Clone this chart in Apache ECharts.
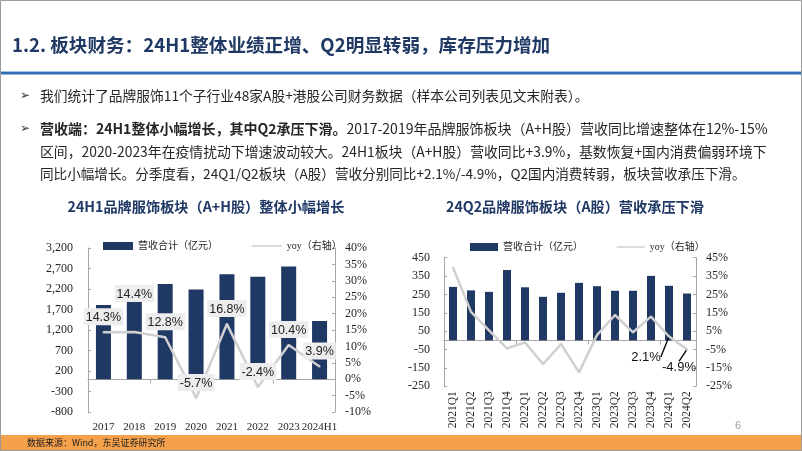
<!DOCTYPE html>
<html><head><meta charset="utf-8">
<script src="https://cdn.jsdelivr.net/npm/echarts@6/dist/echarts.min.js"></script>
<style>html,body{margin:0;padding:0;background:#fff;}#c{width:802px;height:451px;}</style>
</head><body><div id="c"></div>
<script>
// ---- data ----
const years = ['2017','2018','2019','2020','2021','2022','2023','2024H1'];
const revenueAH = [1810, 1890, 2320, 2190, 2560, 2500, 2750, 1420];
const yoyAH = [14.3, 14.4, 12.8, -5.7, 16.8, -2.4, 10.4, 3.9];
const quarters = ['2021Q1','2021Q2','2021Q3','2021Q4','2022Q1','2022Q2','2022Q3','2022Q4','2023Q1','2023Q2','2023Q3','2023Q4','2024Q1','2024Q2'];
const revenueA = [291, 272, 264, 383, 289, 237, 259, 313, 295, 270, 270, 351, 297, 255];
const yoyA = [39.7, 15.5, 5.5, -4.4, -1.1, -12.9, -2.0, -17.4, 2.9, 13.8, 4.4, 12.9, 2.1, -4.9];
const legendNames = ['营收合计（亿元）', 'yoy（右轴）'];

const CJK = 'Noto Sans CJK SC';
const SERIF = 'Liberation Serif, Noto Sans CJK SC';
const NAVY = '#1F3864';
const BAR = '#203864';
const LINE = '#D0D0D0';
const AXIS = '#A6A6A6';

const chart = echarts.init(document.getElementById('c'), null, {renderer: 'canvas'});

function txt(x, y, text, size, opts) {
  return {type: 'text', x: x, y: y, style: Object.assign({
    text: text, fontSize: size, fontFamily: CJK, fill: '#262626',
    textVerticalAlign: 'middle'
  }, opts || {})};
}

const graphic = [
  {type: 'rect', shape: {x: 0.5, y: 0.5, width: 801, height: 450}, style: {fill: 'none', stroke: '#9a9a9a', lineWidth: 1}, z: 100},
  txt(12, 45, '1.2. 板块财务：24H1整体业绩正增、Q2明显转弱，库存压力增加', 18.6, {fontWeight: 'bold', fill: NAVY}),
  {type: 'rect', shape: {x: 0, y: 71, width: 802, height: 1}, style: {fill: '#9DC3E6'}},
  {type: 'rect', shape: {x: 0, y: 72, width: 802, height: 2.5}, style: {fill: '#2E6DB4'}},
  txt(20, 96, '➢', 12, {fontFamily: 'DejaVu Sans', fontWeight: 'bold', fill: '#333'}),
  txt(40, 96, '我们统计了品牌服饰11个子行业48家A股+港股公司财务数据（样本公司列表见文末附表）。', 13.75),
  txt(20, 129, '➢', 12, {fontFamily: 'DejaVu Sans', fontWeight: 'bold', fill: '#333'}),
  {type: 'text', x: 40, y: 129, style: {
    text: '{b|营收端：24H1整体小幅增长，其中Q2承压下滑。}{n|2017-2019年品牌服饰板块（A+H股）营收同比增速整体在12%-15%}',
    textVerticalAlign: 'middle',
    rich: {
      b: {fontSize: 14, fontFamily: CJK, fontWeight: 'bold', fill: '#262626'},
      n: {fontSize: 14, fontFamily: CJK, fill: '#262626'}
    }
  }},
  txt(40, 152, '区间，2020-2023年在疫情扰动下增速波动较大。24H1板块（A+H股）营收同比+3.9%，基数恢复+国内消费偏弱环境下', 13.85),
  txt(40, 174, '同比小幅增长。分季度看，24Q1/Q2板块（A股）营收分别同比+2.1%/-4.9%，Q2国内消费转弱，板块营收承压下滑。', 13.6),
  txt(206, 207, '24H1品牌服饰板块（A+H股）整体小幅增长', 14.2, {fontWeight: 'bold', fill: NAVY, textAlign: 'center'}),
  txt(575, 207, '24Q2品牌服饰板块（A股）营收承压下滑', 14.2, {fontWeight: 'bold', fill: NAVY, textAlign: 'center'}),
  {type: 'rect', shape: {x: 0, y: 435, width: 802, height: 16}, style: {fill: '#F5A04A'}},
  txt(27, 443, '数据来源：Wind，东吴证券研究所', 9, {fill: '#222'}),
  txt(735, 426, '6', 11, {fill: '#A0A0A0', fontFamily: 'Liberation Sans'})
];

const axisLabelSerif = {fontFamily: SERIF, fontSize: 12, color: '#262626'};
const lineLegendItem = {name: legendNames[1], itemStyle: {opacity: 0}, lineStyle: {width: 1.5}};

const option = {
  animation: false,
  backgroundColor: '#fff',
  graphic: graphic,
  legend: [
    {left: 98, top: 236, itemWidth: 30, itemHeight: 8, itemGap: 33,
     data: [{name: legendNames[0], icon: 'rect'}, lineLegendItem],
     textStyle: {fontFamily: SERIF, fontSize: 10, color: '#262626'}},
    {left: 465, top: 237, itemWidth: 28, itemHeight: 8, itemGap: 33,
     data: [{name: legendNames[0], icon: 'rect'}, lineLegendItem],
     textStyle: {fontFamily: SERIF, fontSize: 10, color: '#262626'}}
  ],
  grid: [
    {left: 88, top: 248, width: 247, height: 164},
    {left: 444, top: 257.7, width: 252, height: 128.6}
  ],
  xAxis: [
    {type: 'category', gridIndex: 0, data: years, position: 'bottom',
     axisLine: {show: false, onZero: false}, axisTick: {show: false},
     axisLabel: Object.assign({margin: 10, interval: 0}, axisLabelSerif, {fontSize: 11})},
    {type: 'category', gridIndex: 0, data: years, position: 'bottom',
     axisLine: {show: true, onZero: true, onZeroAxisIndex: 0, lineStyle: {color: AXIS, width: 1}},
     axisTick: {show: true, length: 4, lineStyle: {color: AXIS}}, axisLabel: {show: false}},
    {type: 'category', gridIndex: 1, data: quarters, position: 'bottom',
     axisLine: {show: false, onZero: false}, axisTick: {show: false},
     axisLabel: Object.assign({margin: 5, interval: 0, rotate: 90}, axisLabelSerif, {fontSize: 11.5})},
    {type: 'category', gridIndex: 1, data: quarters, position: 'bottom',
     axisLine: {show: true, onZero: true, onZeroAxisIndex: 2, lineStyle: {color: AXIS, width: 1}},
     axisTick: {show: true, length: 4, lineStyle: {color: AXIS}}, axisLabel: {show: false}}
  ],
  yAxis: [
    {type: 'value', gridIndex: 0, min: -800, max: 3200, interval: 500, position: 'left',
     splitLine: {show: false}, axisLine: {show: true, lineStyle: {color: AXIS}},
     axisTick: {show: true, inside: true, length: 3, lineStyle: {color: AXIS}},
     axisLabel: Object.assign({margin: 15, formatter: v => v.toLocaleString('en-US')}, axisLabelSerif)},
    {type: 'value', gridIndex: 0, min: -10, max: 40, interval: 5, position: 'right',
     splitLine: {show: false}, axisLine: {show: true, lineStyle: {color: AXIS}},
     axisTick: {show: true, inside: true, length: 3, lineStyle: {color: AXIS}},
     axisLabel: Object.assign({margin: 10, formatter: v => v + '%'}, axisLabelSerif)},
    {type: 'value', gridIndex: 1, min: -250, max: 450, interval: 100, position: 'left',
     splitLine: {show: false}, axisLine: {show: true, lineStyle: {color: AXIS}},
     axisTick: {show: true, inside: true, length: 3, lineStyle: {color: AXIS}},
     axisLabel: Object.assign({margin: 14}, axisLabelSerif)},
    {type: 'value', gridIndex: 1, min: -25, max: 45, interval: 10, position: 'right',
     splitLine: {show: false}, axisLine: {show: true, lineStyle: {color: AXIS}},
     axisTick: {show: true, inside: true, length: 3, lineStyle: {color: AXIS}},
     axisLabel: Object.assign({margin: 10, formatter: v => v + '%'}, axisLabelSerif)}
  ],
  series: [
    {type: 'bar', name: legendNames[0], xAxisIndex: 0, yAxisIndex: 0, data: revenueAH,
     barWidth: 15, itemStyle: {color: BAR}, z: 2},
    {type: 'line', name: legendNames[1], xAxisIndex: 0, yAxisIndex: 1,
     data: yoyAH.map((v, i) => i === 1 ? {value: v, label: {offset: [0, -23]}} : v),
     symbol: 'circle', symbolSize: 2, showSymbol: true, z: 3,
     lineStyle: {color: LINE, width: 2.5}, itemStyle: {color: LINE},
     label: {show: true, position: 'top', distance: 6, formatter: p => p.value.toFixed(1) + '%',
       fontFamily: 'Liberation Sans', fontSize: 12.5, color: '#222',
       backgroundColor: '#EDEDED', padding: [3, 2, 1, 2]}},
    {type: 'bar', name: legendNames[0], xAxisIndex: 2, yAxisIndex: 2, data: revenueA,
     barWidth: 8, itemStyle: {color: BAR}, z: 2},
    {type: 'line', name: legendNames[1], xAxisIndex: 2, yAxisIndex: 3,
     data: yoyA.map((v, i) => i >= 12 ? {value: v, label: {show: true}} : v),
     symbol: 'circle', symbolSize: 2, showSymbol: true, z: 3,
     lineStyle: {color: LINE, width: 2.5}, itemStyle: {color: LINE},
     label: {show: false, position: 'bottom', distance: 5, formatter: p => p.value.toFixed(1) + '%',
       fontFamily: 'Liberation Sans', fontSize: 13, color: '#111'},
     labelLine: {show: true, lineStyle: {color: '#000', width: 1.3}},
     labelLayout: function (p) {
       if (p.dataIndex === 12) return {dx: -23, dy: 8};
       if (p.dataIndex === 13) return {dx: -8, dy: 6};
       return {};
     }}
  ]
};
chart.setOption(option);
</script></body></html>
